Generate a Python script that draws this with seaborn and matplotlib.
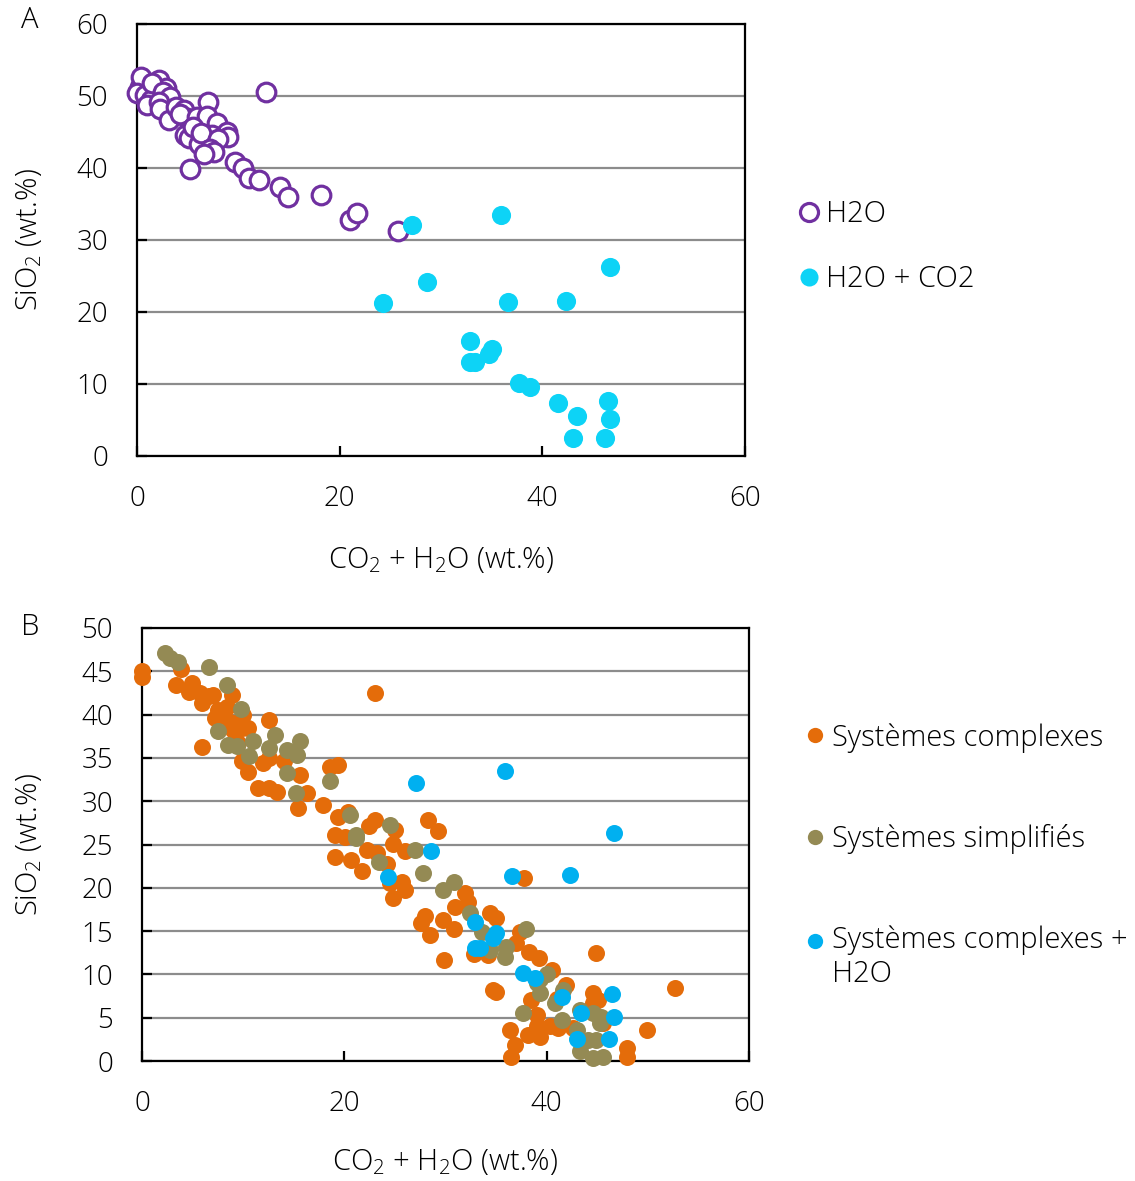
import pandas as pd
import seaborn as sns
import matplotlib.pyplot as plt
from matplotlib.lines import Line2D

# panel A: H2O only (open circles) and H2O + CO2 (filled)
h2o_x = [0.3, 0.4, 2.2, 2.9, 0.0, 0.8, 1.4, 1.5, 2.6, 3.3, 1.0, 2.2, 2.3, 3.2, 3.8, 4.6,
         4.9, 4.2, 5.9, 7.0, 6.9, 7.9, 8.9, 9.0, 4.7, 5.1, 6.1, 7.4, 5.5, 6.3, 8.0, 7.2,
         7.6, 6.6, 5.2, 9.7, 10.5, 11.1, 12.0, 14.1, 14.9, 18.2, 21.0, 21.7, 25.8, 12.7]
h2o_y = [51.3, 52.7, 52.2, 51.1, 50.4, 50.1, 49.4, 51.8, 50.5, 49.8, 48.8, 49.1, 48.2, 46.7, 48.5, 48.1,
         46.9, 47.5, 47.1, 49.2, 47.2, 46.2, 45.0, 44.3, 44.6, 44.1, 43.4, 44.6, 45.7, 44.8, 44.0, 42.7,
         42.2, 41.9, 39.8, 40.9, 40.0, 38.6, 38.3, 37.3, 36.0, 36.3, 32.8, 33.8, 31.3, 50.6]

co2_x = [27.1, 35.9, 28.6, 24.3, 36.6, 42.3, 46.7, 32.9, 32.9, 33.4, 35.0, 34.7,
         37.7, 38.8, 41.5, 43.4, 43.0, 46.5, 46.7, 46.2]
co2_y = [32.1, 33.5, 24.2, 21.3, 21.4, 21.5, 26.3, 16.0, 13.1, 13.0, 14.8, 14.2,
         10.2, 9.6, 7.4, 5.6, 2.5, 7.7, 5.1, 2.5]

# panel B: complex systems, simplified systems (complex + H2O = same as co2 above)
cplx_x = [0.0, 0.0, 3.9, 3.4, 4.9, 4.6, 5.7, 5.9, 7.0, 6.6, 8.9, 8.4, 7.5, 7.2, 8.0, 8.7,
          10.0, 9.9, 9.0, 10.5, 12.6, 9.5, 5.9, 9.9, 10.5, 12.0, 12.6, 14.0, 15.6, 16.3, 11.5, 12.6,
          13.3, 15.4, 17.9, 18.6, 19.4, 19.4, 20.4, 19.1, 23.0, 20.4, 22.4, 23.0, 25.0, 28.3,
          29.3, 19.1, 20.1, 20.7, 21.7, 22.2, 23.2, 24.8, 26.0, 24.2, 24.5, 25.7, 24.8, 26.0,
          31.9, 30.9, 32.2, 28.0, 27.6, 28.5, 29.8, 30.8, 34.4, 35.0, 37.8, 29.9, 33.2, 34.2,
          37.4, 37.0, 38.3, 39.2, 40.5, 41.9, 34.7, 44.9, 52.7, 44.6, 45.1, 49.9, 47.9, 47.9,
          36.5, 36.9, 36.4, 38.2, 39.0, 39.0, 40.3, 41.1, 39.3, 42.6, 45.6, 38.5, 41.0, 44.6,
          32.8, 35.0]
cplx_y = [44.3, 45.0, 45.3, 43.4, 43.6, 42.6, 42.5, 41.3, 42.3, 42.1, 42.3, 40.9, 40.5, 39.6, 40.0, 39.2,
          40.0, 38.4, 38.2, 38.4, 39.4, 36.7, 36.3, 34.6, 33.4, 34.4, 35.0, 34.6, 33.0, 30.9, 31.5, 31.5,
          31.1, 29.2, 29.6, 34.0, 34.2, 28.2, 28.8, 26.1, 42.5, 28.6, 27.1, 27.8, 26.7, 27.8,
          26.6, 23.6, 25.9, 23.2, 21.9, 24.4, 24.0, 25.1, 24.2, 22.8, 20.5, 20.7, 18.8, 19.7,
          19.4, 17.8, 18.4, 16.7, 15.9, 14.6, 16.3, 15.3, 17.1, 16.5, 21.1, 11.7, 12.8, 12.2,
          14.9, 13.6, 12.6, 11.9, 10.5, 8.8, 8.2, 12.5, 8.4, 7.8, 7.0, 3.6, 1.5, 0.5,
          0.5, 1.8, 3.6, 3.0, 5.3, 4.0, 4.0, 3.8, 2.8, 3.8, 4.4, 7.0, 7.2, 6.7,
          12.4, 8.0]

simp_x = [2.3, 2.8, 3.6, 6.6, 8.4, 9.8, 7.5, 8.5, 9.4, 11.0, 10.6, 13.1, 12.6, 14.3, 15.6, 15.3,
          14.3, 15.2, 18.6, 20.6, 21.2, 24.5, 27.0, 21.2, 23.4, 27.8, 29.8, 30.8, 32.4, 33.6,
          34.4, 36.0, 35.9, 38.0, 39.0, 39.3, 40.0, 37.7, 40.8, 41.6, 41.5, 43.3, 44.6, 45.3,
          43.0, 43.3, 44.6, 45.6, 44.9, 44.1, 45.4, 39.3]
simp_y = [47.1, 46.5, 46.1, 45.5, 43.4, 40.7, 38.1, 36.5, 36.4, 37.0, 35.2, 37.7, 36.1, 35.9, 36.9, 35.3,
          33.2, 31.0, 32.3, 28.4, 26.1, 27.3, 24.4, 25.7, 23.0, 21.7, 19.7, 20.7, 17.1, 14.9,
          12.8, 13.2, 12.0, 15.3, 9.0, 7.8, 10.1, 5.5, 6.7, 8.2, 4.7, 5.9, 5.5, 4.4,
          3.6, 1.1, 0.3, 0.5, 2.4, 2.4, 5.1, 9.5]

sns.set_style('white')
plt.rcParams['font.family'] = ['Open Sans', 'DejaVu Sans']
plt.rcParams['font.weight'] = 'light'
plt.rcParams['axes.labelweight'] = 'light'
plt.rcParams['text.color'] = 'black'
plt.rcParams['mathtext.default'] = 'regular'

fs_tick = 20
fs_lab = 21
purple = '#7030A0'
cyan = '#0DD3F6'
orange = '#E46C0A'
olive = '#948A54'
blue = '#00B0F0'

fig = plt.figure(figsize=(11.35, 11.81), dpi=100)
axA = fig.add_axes([137/1135, 1-456/1181, 608/1135, 432/1181])
axB = fig.add_axes([142/1135, 1-1061/1181, 607/1135, 433/1181])

sns.scatterplot(x=h2o_x, y=h2o_y, ax=axA, marker='o', s=180, facecolor='white',
                edgecolor=purple, linewidth=2.3, clip_on=False, zorder=3)
sns.scatterplot(x=co2_x, y=co2_y, ax=axA, marker='o', s=190, color=cyan,
                edgecolor=cyan, linewidth=0, clip_on=False, zorder=4)

sns.scatterplot(x=cplx_x, y=cplx_y, ax=axB, marker='o', s=150, color=orange,
                linewidth=0, clip_on=False, zorder=3)
sns.scatterplot(x=simp_x, y=simp_y, ax=axB, marker='o', s=150, color=olive,
                linewidth=0, clip_on=False, zorder=4)
sns.scatterplot(x=co2_x, y=co2_y, ax=axB, marker='o', s=150, color=blue,
                linewidth=0, clip_on=False, zorder=5)

for ax, ymax, ystep in [(axA, 60, 10), (axB, 50, 5)]:
    ax.set_xlim(0, 60)
    ax.set_ylim(0, ymax)
    ax.set_xticks(range(0, 61, 20))
    ax.set_yticks(range(0, ymax + 1, ystep))
    ax.grid(axis='y', color='#8c8c8c', linewidth=1.6)
    ax.grid(axis='x', visible=False)
    ax.set_axisbelow(True)
    for sp in ax.spines.values():
        sp.set_visible(True)
        sp.set_color('black')
        sp.set_linewidth(1.6)
    ax.tick_params(direction='in', length=7, width=1.6, color='black', labelcolor='black',
                   labelsize=fs_tick, pad=21, left=True, bottom=True)
    ax.set_xlabel('CO$_2$ + H$_2$O (wt.%)', fontsize=fs_lab, color='black')
    ax.set_ylabel('SiO$_2$ (wt.%)', fontsize=fs_lab, color='black')

axA.xaxis.set_label_coords(0.5, -0.205)
axA.yaxis.set_label_coords(-0.153, 0.5)
axB.xaxis.set_label_coords(0.5, -0.199)
axB.yaxis.set_label_coords(-0.161, 0.5)

fig.text(30/1135, 1-20/1181, 'A', fontsize=fs_lab, ha='center', va='center')
fig.text(30/1135, 1-627/1181, 'B', fontsize=fs_lab, ha='center', va='center')

hA = [Line2D([], [], ls='', marker='o', ms=13, mfc='white', mec=purple, mew=2.3),
      Line2D([], [], ls='', marker='o', ms=13, mfc=cyan, mec=cyan, mew=0)]
fig.legend(hA, ['H2O', 'H2O + CO2'], loc='center left',
           bbox_to_anchor=(800/1135, 1-247/1181), frameon=False, fontsize=fs_lab,
           borderpad=0, borderaxespad=0, handlelength=0.6, handletextpad=0.3,
           labelspacing=1.22)

hB = [Line2D([], [], ls='', marker='o', ms=11, mfc=c, mec=c, mew=0)
      for c in [orange, olive, blue]]
legB = fig.legend(hB, ['Systèmes complexes', 'Systèmes simplifiés', 'Systèmes complexes +\nH2O'],
                  loc='center left', bbox_to_anchor=(806/1135, 1-856/1181), frameon=False,
                  fontsize=fs_lab, borderpad=0, borderaxespad=0, handlelength=0.6,
                  handletextpad=0.3, labelspacing=2.45)
# put the marker of the wrapped entry next to its first line
h3 = legB.legend_handles[2]
h3.set_ydata([v + 0.6 * fs_lab for v in h3.get_ydata()])

fig.savefig('out.png', dpi=100)
